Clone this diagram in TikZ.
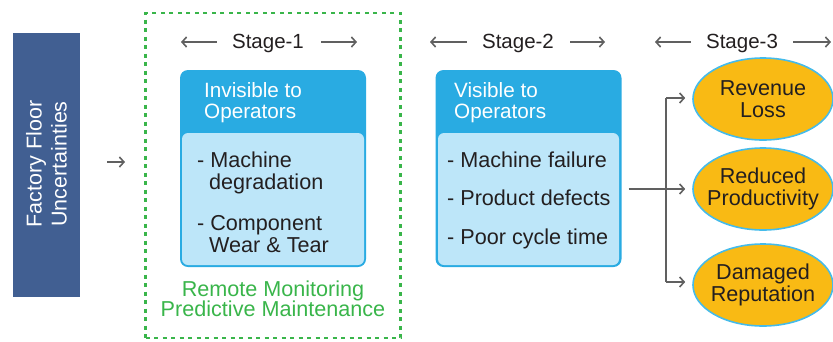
\documentclass[tikz,border=0pt]{standalone}
\usepackage{fontspec}
\setmainfont{Liberation Sans}
\usetikzlibrary{arrows.meta,calc,shapes.geometric}

\definecolor{navy}{HTML}{415F92}
\definecolor{hdrblue}{HTML}{29ABE2}
\definecolor{bodyblue}{HTML}{BDE6F9}
\definecolor{leafgreen}{HTML}{39B54A}
\definecolor{gold}{HTML}{F9BA14}
\definecolor{rimblue}{HTML}{45BBEA}
\definecolor{ink}{HTML}{231F20}
\definecolor{wire}{HTML}{606060}

\tikzset{
  txt/.style={font=\fontsize{21.6}{22}\selectfont, text=ink, inner sep=0pt},
  hdrtxt/.style={font=\fontsize{20.7}{22}\selectfont, text=white, inner sep=0pt, anchor=base west},
  item/.style={txt, anchor=base west},
  stagelbl/.style={font=\fontsize{20.5}{22}\selectfont, text=ink, inner sep=0pt, anchor=base},
  stagearrow/.style={draw=wire, line width=1.6pt, -{Straight Barb[length=4.5pt,width=10pt,line width=1.6pt]}},
  conn/.style={draw=wire, line width=1.8pt},
  connarrow/.style={conn, -{Straight Barb[length=4.5pt,width=10pt,line width=1.6pt]}},
  stagebox/.style={minimum width=186pt, minimum height=197pt, rounded corners=8pt, fill=hdrblue, draw=none, inner sep=0pt},
  outcome/.style={ellipse, minimum width=140pt, minimum height=82pt, fill=gold, draw=rimblue, line width=1.6pt, inner sep=0pt},
  outcometxt/.style={font=\fontsize{21.6}{22}\selectfont, text=ink, align=center, inner sep=0pt},
}

\begin{document}
\begin{tikzpicture}[x=1pt,y=-1pt]
\useasboundingbox (0,0) rectangle (833,341);

% source block
\node (src) [fill=navy, minimum width=67pt, minimum height=264pt, inner sep=0pt] at (46.5,165) {};
\node (srctxt) [rotate=90, align=center, text=white, inner sep=0pt,
  font=\fontsize{21.5}{25}\selectfont] at (46.5,164) {Factory Floor\\Uncertainties};

% dotted frame around stage 1
\node (frame) [draw=leafgreen, line width=2.6pt, dash pattern=on 4pt off 4.5pt,
  minimum width=255pt, minimum height=325pt, inner sep=0pt] at (273,175.5) {};

\coordinate (inA) at (107,162);
\coordinate (inB) at (125,162);
\draw[connarrow, line width=1.4pt] (inA) -- (inB);

% stage headings
\node (s1) [stagelbl] at (268,48) {Stage-1};
\node (s2) [stagelbl] at (518,48) {Stage-2};
\node (s3) [stagelbl] at (742,48) {Stage-3};
\coordinate (s1l) at (181,42); \coordinate (s1r) at (357,42);
\coordinate (s2l) at (430,42); \coordinate (s2r) at (605,42);
\coordinate (s3l) at (655,42); \coordinate (s3r) at (831,42);
\draw[stagearrow] (s1.west |- s1l) ++(-15,0) -- (s1l);
\draw[stagearrow] (s1.east |- s1r) ++(17,0) -- (s1r);
\draw[stagearrow] (s2.west |- s2l) ++(-15,0) -- (s2l);
\draw[stagearrow] (s2.east |- s2r) ++(16,0) -- (s2r);
\draw[stagearrow] (s3.west |- s3l) ++(-15,0) -- (s3l);
\draw[stagearrow] (s3.east |- s3r) ++(15,0) -- (s3r);

% stage 1 box
\node (box1) [stagebox] at (273,168.5) {};
\fill[bodyblue, rounded corners=6pt] (182,133) rectangle (364,265);
\node (h1a) [hdrtxt] at (204,97) {Invisible to};
\node (h1b) [hdrtxt] at (204,118) {Operators};
\node (i1a) [item] at (197,167) {- Machine};
\node (i1b) [item] at (209,189) {degradation};
\node (i1c) [item] at (197,230) {- Component};
\node (i1d) [item] at (209,252) {Wear \& Tear};

\node (rm1) [txt, text=leafgreen, anchor=base] at (273,296) {Remote Monitoring};
\node (rm2) [txt, text=leafgreen, anchor=base] at (273,316) {Predictive Maintenance};

% stage 2 box
\node (box2) [stagebox] at (528.5,168.5) {};
\fill[bodyblue, rounded corners=6pt] (438,133) rectangle (619,265);
\node (h2a) [hdrtxt] at (454,97) {Visible to};
\node (h2b) [hdrtxt] at (454,118) {Operators};
\node (i2a) [item] at (447,167) {- Machine failure};
\node (i2b) [item] at (447,205) {- Product defects};
\node (i2c) [item] at (447,244) {- Poor cycle time};

% stage 3 outcomes
\node (e1) [outcome] at (763,99) {};
\node (e2) [outcome] at (763,189) {};
\node (e3) [outcome] at (763,285) {};
\node (t1) [outcometxt] at (e1) {Revenue\\Loss};
\node (t2) [outcometxt] at (e2) {Reduced\\Productivity};
\node (t3) [outcometxt] at (e3) {Damaged\\Reputation};

% fan-out from stage 2 to outcomes
\coordinate (fork) at (666,189);
\coordinate (forkTop) at (666,98);
\coordinate (forkBot) at (666,282);
\draw[conn] ([xshift=7pt]box2.east |- e2.west) -- (fork);
\draw[conn] (forkTop) -- (forkBot);
\draw[connarrow] (forkTop) -- ([xshift=-7pt]e1.west |- forkTop);
\draw[connarrow] (fork) -- ([xshift=-7pt]e2.west);
\draw[connarrow] (forkBot) -- ([xshift=-7pt]e3.west |- forkBot);
\end{tikzpicture}
\end{document}
